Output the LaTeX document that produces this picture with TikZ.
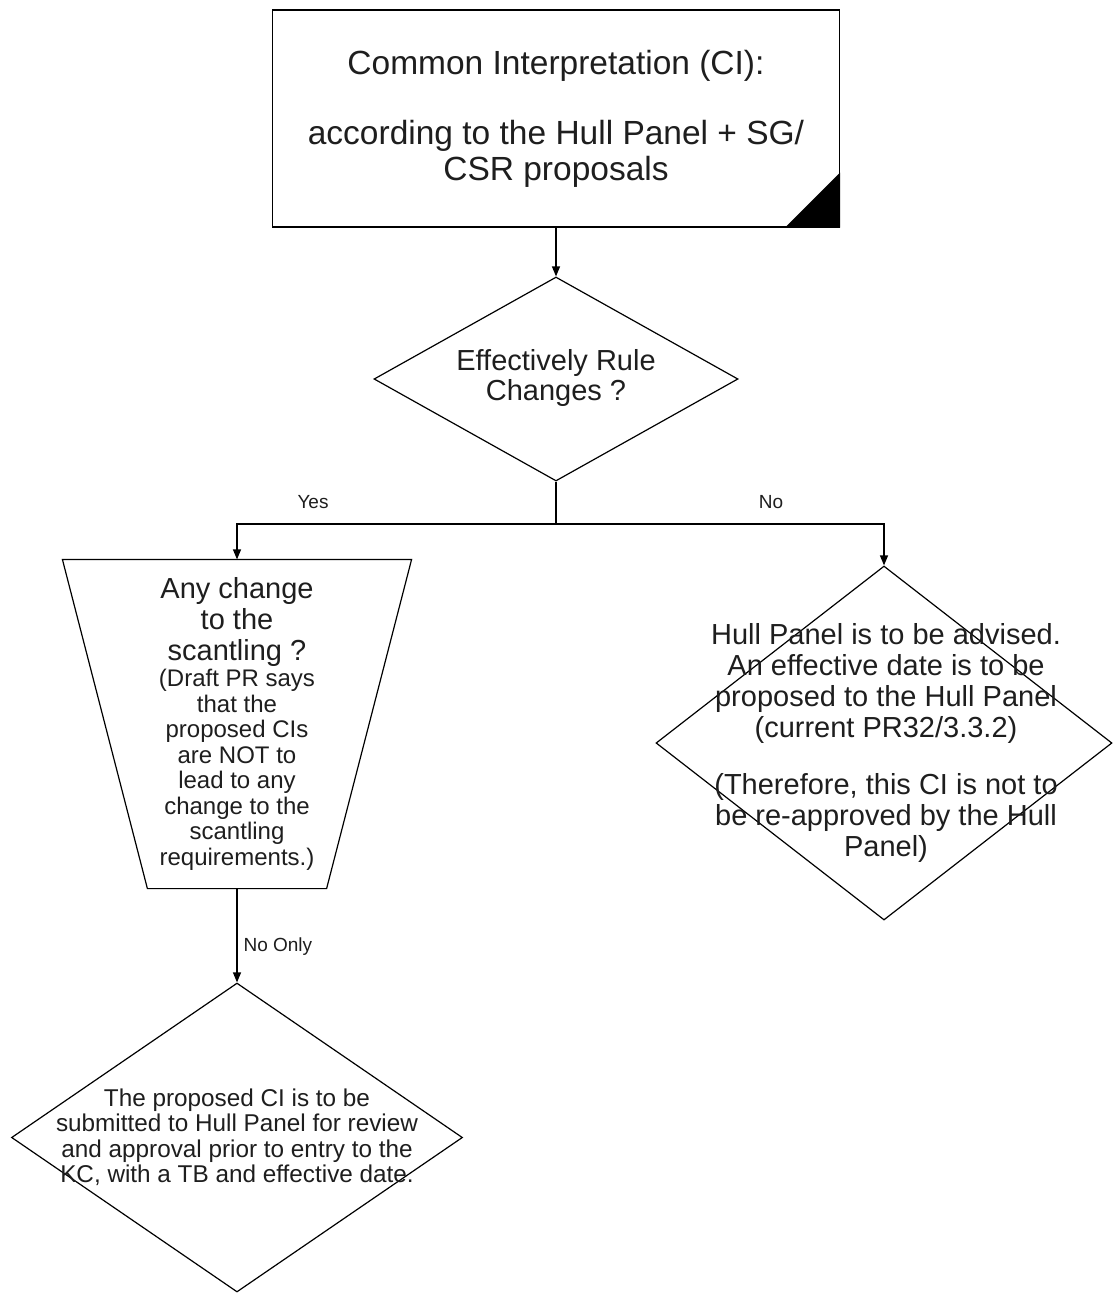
\documentclass[tikz,border=0pt]{standalone}
\usepackage{fontspec}
\setmainfont{Liberation Sans}
\usetikzlibrary{arrows.meta,shapes.geometric,calc}
\definecolor{txt}{RGB}{30,30,30}
\begin{document}
\begin{tikzpicture}[x=1pt,y=-1pt,
  line width=1.2pt,
  box/.style={draw, rectangle, minimum width=567pt, minimum height=217pt, inner sep=0pt, align=center, text=txt},
  dia/.style={draw, diamond, inner sep=0pt},
  txtnode/.style={align=center, inner sep=0pt, text=txt},
  lbl/.style={font=\fontsize{19}{22}\selectfont, inner sep=0pt, text=txt},
  arr/.style={-{Triangle[length=10pt,width=8pt]}}
]
\useasboundingbox (0,0) rectangle (1112,1293);

% top box
\node[box, font=\fontsize{33.5}{36}\selectfont] (ci) at (556,118.5)
  {Common Interpretation (CI):\\[34pt]according to the Hull Panel + SG/\\CSR proposals};
\fill (ci.south east) -- ++(-55,0) -- ++(55,-55) -- cycle;

% decision 1
\node[dia, minimum width=364pt, minimum height=204pt] (d1) at (556,379) {};
\node[txtnode, font=\fontsize{29}{30}\selectfont] (d1t) at (556,378) {Effectively Rule\\Changes ?};
\draw[arr] (ci.south) -- (d1.north);

% branch
\coordinate (jn) at (556,524);
\draw (d1.south) -- (jn);

% trapezoid
\node[minimum width=348pt, minimum height=328pt, inner sep=0pt] (trap) at (237,724) {};
\draw (trap.north west) -- (trap.north east) -- ($(trap.south east)+(-85,0)$) -- ($(trap.south west)+(85,0)$) -- cycle;
\node[txtnode, font=\fontsize{29}{31}\selectfont] (trapt1) at (237,622) {Any change\\to the\\scantling ?};
\node[txtnode, font=\fontsize{24}{25.5}\selectfont] (trapt2) at (237,770)
  {(Draft PR says\\that the\\proposed CIs\\are NOT to\\lead to any\\change to the\\scantling\\requirements.)};

% decision 2
\node[dia, minimum width=456pt, minimum height=354pt] (d2) at (884,743) {};
\node[txtnode, font=\fontsize{29}{31}\selectfont] (d2t) at (886,742.5)
  {Hull Panel is to be advised.\\An effective date is to be\\proposed to the Hull Panel\\(current PR32/3.3.2)\\[26pt](Therefore, this CI is not to\\be re-approved by the Hull\\Panel)};

\draw[arr] (jn) -| (trap.north);
\draw[arr] (jn) -| (d2.north);
\node[lbl] (yes) at (313,502) {Yes};
\node[lbl] (no) at (771,502) {No};

% decision 3
\node[dia, minimum width=451pt, minimum height=309pt] (d3) at (237,1137.5) {};
\node[txtnode, font=\fontsize{24.3}{25.5}\selectfont] (d3t) at (237,1137)
  {The proposed CI is to be\\submitted to Hull Panel for review\\and approval prior to entry to the\\KC, with a TB and effective date.};

\draw[arr] (trap.south) -- node[lbl, right=6pt, pos=0.62] (noonly) {No Only} (d3.north);
\end{tikzpicture}
\end{document}
